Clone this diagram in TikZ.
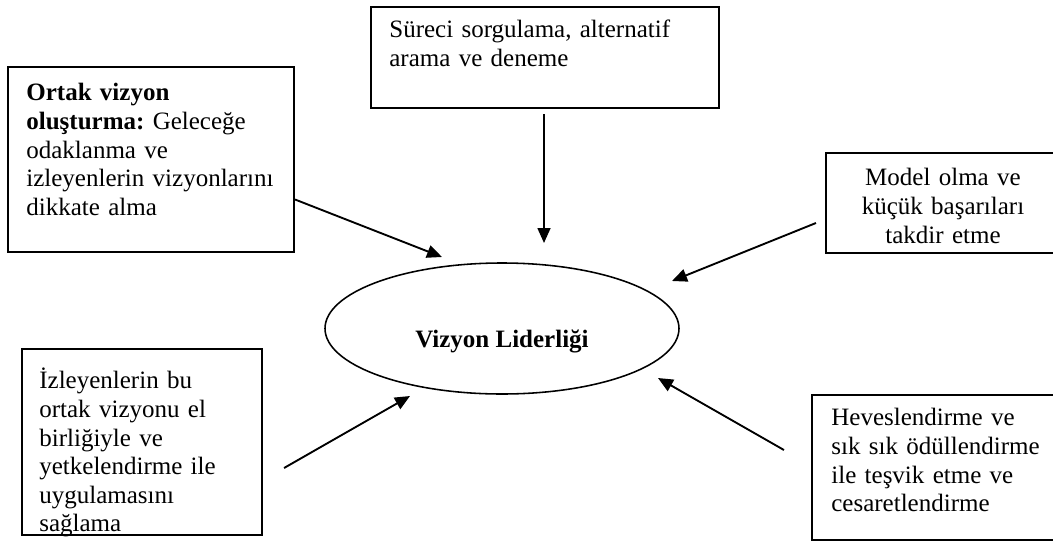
\documentclass[tikz,border=0pt]{standalone}
\usepackage{fontspec}
\setmainfont{Liberation Serif}
\usetikzlibrary{
  arrows.meta,
  shapes.geometric
}
\frenchspacing
\newcommand{\pxu}{0.48pt}
\tikzset{
  vlbox/.style={draw, rectangle, line width=1pt, inner sep=0pt},
  vltext/.style={inner sep=0pt, align=left, anchor=base west, text width=330*\pxu,
    font=\fontsize{12pt}{13.7pt}\selectfont},
  vlcore/.style={draw, ellipse, line width=0.75pt, inner sep=0pt,
    minimum width=354*\pxu, minimum height=131*\pxu,
    text height=17.8pt, text depth=0pt,
    font=\fontsize{12pt}{13.7pt}\selectfont\bfseries},
  vlarrow/.style={-{Triangle[length=7.2pt, width=6.2pt]}, line width=0.9pt}
}

\begin{document}
\begin{tikzpicture}[x=\pxu, y=-\pxu]
  \useasboundingbox (0,0) rectangle (1053,541);

  \node[vlcore] (core) at (502,328.5) {Vizyon Liderliği};

  \node[vlbox, minimum width=286*\pxu, minimum height=185*\pxu] (vision) at (151,159.5) {};
  \node[vltext] (visionTxt) at ([shift={(19,35)}]vision.north west)
    {\textbf{Ortak vizyon}\\\textbf{oluşturma:} Geleceğe\\odaklanma ve\\izleyenlerin vizyonlarını\\dikkate alma};

  \node[vlbox, minimum width=348*\pxu, minimum height=101*\pxu] (search) at (545,57.5) {};
  \node[vltext] (searchTxt) at ([shift={(19,32)}]search.north west)
    {Süreci sorgulama, alternatif\\arama ve deneme};

  \node[vlbox, minimum width=234*\pxu, minimum height=100*\pxu] (model) at (943,203) {};
  \node[vltext, align=center, anchor=base, text width=220*\pxu] (modelTxt) at ([shift={(0,34)}]model.north)
    {Model olma ve\\küçük başarıları\\takdir etme};

  \node[vlbox, minimum width=240*\pxu, minimum height=186*\pxu] (share) at (142,442) {};
  \node[vltext] (shareTxt) at ([shift={(18,41)}]share.north west)
    {İzleyenlerin bu\\ortak vizyonu el\\birliğiyle ve\\yetkelendirme ile\\uygulamasını\\sağlama};

  \node[vlbox, minimum width=248*\pxu, minimum height=145*\pxu] (cheer) at (936,467.5) {};
  \node[vltext] (cheerTxt) at ([shift={(20,32)}]cheer.north west)
    {Heveslendirme ve\\sık sık ödüllendirme\\ile teşvik etme ve\\cesaretlendirme};

  \coordinate (visionTip) at (442,257);
  \coordinate (searchTip) at (544,243);
  \coordinate (modelTip) at (672,281);
  \coordinate (shareTip) at (410,396);
  \coordinate (cheerTip) at (658,378);

  \draw[vlarrow] ([shift={(0,40)}]vision.east) -- (visionTip);
  \draw[vlarrow] ([shift={(-1,5)}]search.south) -- (searchTip);
  \draw[vlarrow] ([shift={(-9,20)}]model.west) -- (modelTip);
  \draw[vlarrow] ([shift={(21,26)}]share.east) -- (shareTip);
  \draw[vlarrow] ([shift={(-27,-17.5)}]cheer.west) -- (cheerTip);
\end{tikzpicture}
\end{document}
